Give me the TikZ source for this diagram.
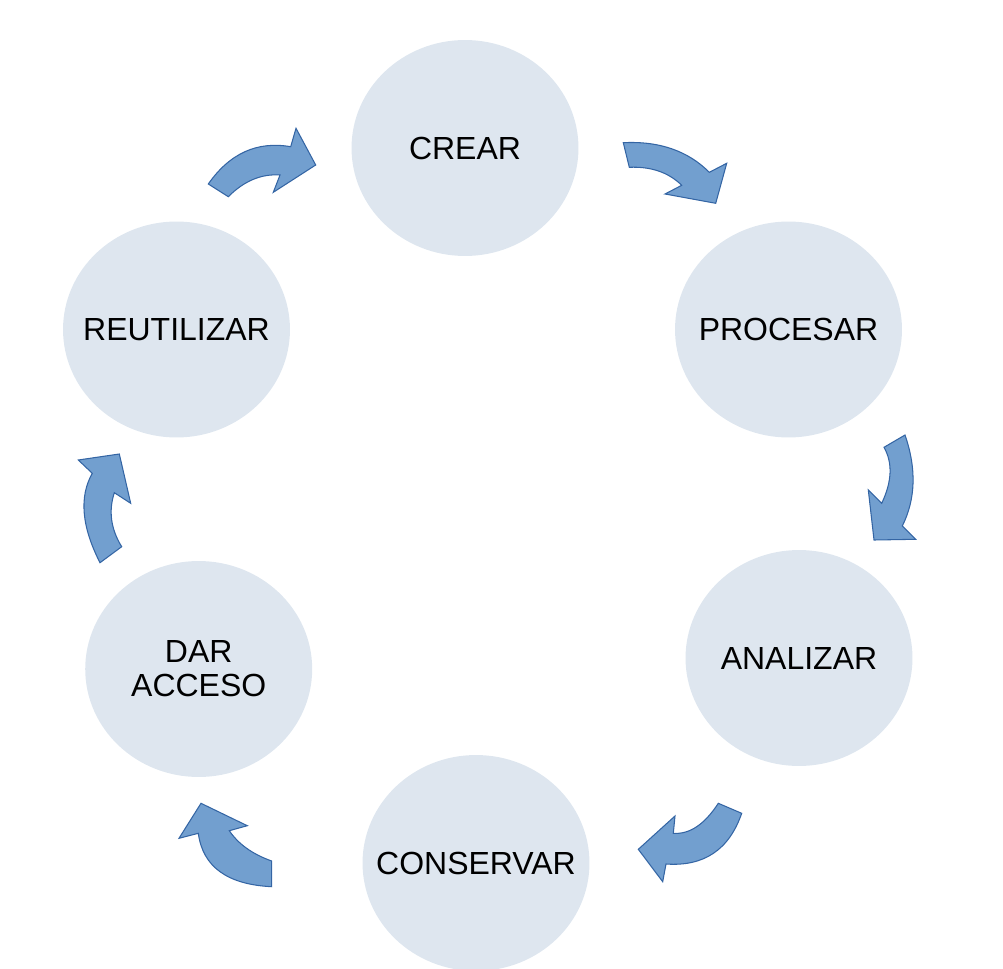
\documentclass[tikz,border=0pt]{standalone}
\usepackage{fontspec}
\setmainfont{Liberation Sans}
\usetikzlibrary{shapes.geometric}
\definecolor{stagefill}{HTML}{DEE6EF}
\definecolor{arrowfill}{HTML}{729FCF}
\definecolor{arrowline}{HTML}{3465A4}
\begin{document}
\begin{tikzpicture}[x=0.02cm,y=-0.02cm,
  stage/.style={ellipse,fill=stagefill,minimum width=4.54cm,minimum height=4.32cm,inner sep=0pt,align=center,font=\fontsize{18.2}{19.5}\selectfont},
  turn/.style={fill=arrowfill,draw=arrowline,line width=0.6pt,line join=miter}]
\useasboundingbox (0,0) rectangle (1003,969);
% stages
\node[stage] (crear) at (465,148) {\makebox[0pt]{CREAR}};
\node[stage] (procesar) at (788.5,329.5) {\makebox[0pt]{PROCESAR}};
\node[stage] (analizar) at (799,658) {\makebox[0pt]{ANALIZAR}};
\node[stage] (conservar) at (476,863) {\makebox[0pt]{CONSERVAR}};
\node[stage] (acceso) at (198.7,669) {\makebox[0pt]{DAR}\\\makebox[0pt]{ACCESO}};
\node[stage] (reutilizar) at (176.5,329.5) {\makebox[0pt]{REUTILIZAR}};
% curved arrows
\draw[turn] (623.3,142.7) .. controls (659.1,140.9) and (687.8,150.8) .. (709.3,172.3) -- (726.7,163.3) -- (715.7,203.3) -- (665,194) -- (681.7,185.3) .. controls (668.6,172.4) and (651.1,166.4) .. (629.3,167.3) -- cycle;
\draw[turn] (905,435) .. controls (916.6,468.7) and (915.7,499) .. (902.3,526) -- (915.7,539.3) -- (874,540) -- (868.3,490) -- (881.7,503.3) .. controls (892,481.6) and (892.8,462.9) .. (884,447.3) -- cycle;
\draw[turn] (741.7,813.3) .. controls (729.1,849.8) and (703.9,866.7) .. (666,864) -- (662.7,881.7) -- (638.3,849.3) -- (675,816) -- (673.3,833.3) .. controls (689.5,834.5) and (704.5,824.5) .. (718.3,803.3) -- cycle;
\draw[turn] (271.7,886.7) .. controls (227.2,884.5) and (202.8,866.7) .. (198.3,833.3) -- (179,838.3) -- (201,803.3) -- (247.3,825.7) -- (229.3,830.7) .. controls (238.4,844.1) and (252.5,854.2) .. (271.7,861) -- cycle;
\draw[turn] (100,562.7) .. controls (81.6,526.6) and (79,496.8) .. (92.3,473.3) -- (78.3,460) -- (119.3,454) -- (130.7,503.3) -- (114.3,492.7) .. controls (108.4,511.1) and (110.8,529.1) .. (121.7,546.7) -- cycle;
\draw[turn] (208.3,184) .. controls (229.8,153.3) and (257.2,140.9) .. (290.7,146.7) -- (296,128.3) -- (315.7,165) -- (273.3,192.3) -- (280,175) .. controls (261.3,173.7) and (244.1,180.9) .. (228.3,196.7) -- cycle;
\end{tikzpicture}
\end{document}
